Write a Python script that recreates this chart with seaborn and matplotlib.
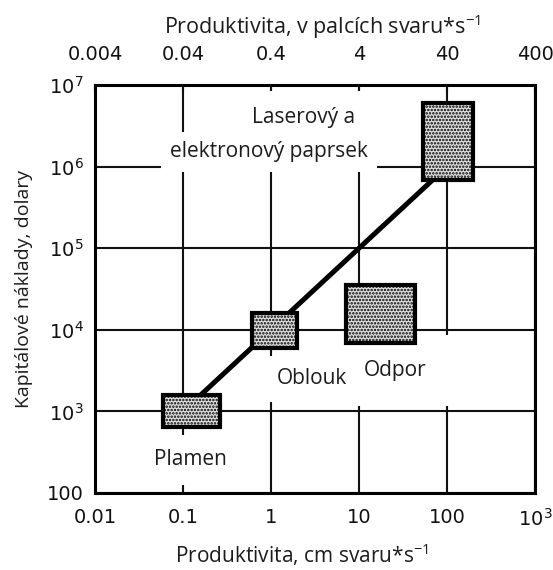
import matplotlib
matplotlib.use("Agg")
import matplotlib.pyplot as plt
from matplotlib.patches import Rectangle
import seaborn as sns
import pandas as pd

# Productivity (cm of weld per second) vs. capital cost (USD), log-log
x_ticks = [0.01, 0.1, 1, 10, 100, 1000]
x_labels = ["0.01", "0.1", "1", "10", "100", r"$\mathregular{10^3}$"]
top_labels = ["0.004", "0.04", "0.4", "4", "40", "400"]
y_ticks = [100, 1e3, 1e4, 1e5, 1e6, 1e7]
y_labels = ["100", r"$\mathregular{10^3}$", r"$\mathregular{10^4}$",
            r"$\mathregular{10^5}$", r"$\mathregular{10^6}$", r"$\mathregular{10^7}$"]

# trend line through the process regions
trend_x = [0.1, 1, 10, 100]
trend_y = [1e3, 1e4, 1e5, 1e6]

# process regions: productivity range and cost range
methods = ["Plamen", "Oblouk", "Odpor", "Laser"]
prod_lo = [0.059, 0.61, 7.1, 53]
prod_hi = [0.26, 1.97, 43, 197]
cost_lo = [644, 6.0e3, 6.9e3, 6.9e5]
cost_hi = [1590, 1.6e4, 3.5e4, 6.0e6]

sns.set_theme(style="white")
plt.rcParams["font.family"] = ["DejaVu Sans"]
plt.rcParams["hatch.color"] = "#4a4a4a"
plt.rcParams["hatch.linewidth"] = 1.2

fig = plt.figure(figsize=(5.53, 5.70), dpi=100)
ax = fig.add_axes([0.1718, 0.1351, 0.7957, 0.7158])
ax.set_xscale("log")
ax.set_yscale("log")
ax.set_xlim(0.01, 1000)
ax.set_ylim(100, 1e7)

ax.grid(True, which="major", color="#111111", linewidth=1.5)
ax.grid(False, which="minor")
ax.set_axisbelow(True)

trend = pd.DataFrame({"prod": trend_x, "cost": trend_y})
sns.lineplot(data=trend, x="prod", y="cost", ax=ax, color="black",
             linewidth=3.6, zorder=3, solid_capstyle="butt")

for lo_x, hi_x, lo_y, hi_y in zip(prod_lo, prod_hi, cost_lo, cost_hi):
    ax.add_patch(Rectangle((lo_x, lo_y), hi_x - lo_x, hi_y - lo_y,
                           facecolor="#e0e0e0", edgecolor="black",
                           hatch=".....", linewidth=3.0, zorder=4))

text_family = ["Open Sans", "DejaVu Sans"]
label_font = dict(family=text_family, fontsize=15, color="#1c1c1c")


def label(x, y, s, pad, z=2):
    ax.text(x, y, s, ha="center", va="center", zorder=z,
            bbox=dict(boxstyle=f"square,pad={pad}", facecolor="white",
                      edgecolor="none"), **label_font)


label(2.37, 3.94e6, "Laserový a", 0.8)
label(0.95, 1.51e6, "elektronový paprsek", 0.45)
label(25.6, 3.2e3, "Odpor", 1.2, z=2)
label(2.92, 2.5e3, "Oblouk", 0.6, z=2.2)
label(0.123, 254, "Plamen", 0.7)

ax.set_xticks(x_ticks)
ax.set_xticklabels(x_labels)
ax.set_yticks(y_ticks)
ax.set_yticklabels(y_labels)
ax.minorticks_off()
ax.tick_params(axis="x", length=0, pad=11, labelsize=14, labelcolor="#111111")
ax.tick_params(axis="y", length=0, pad=8, labelsize=14, labelcolor="#111111")

top = ax.secondary_xaxis("top")
top.set_xticks(x_ticks)
top.set_xticklabels(top_labels)
top.minorticks_off()
top.tick_params(axis="x", direction="in", length=6, width=1.5, pad=15,
                labelsize=14, labelcolor="#111111", color="#111111")
top.spines["top"].set_visible(False)

for sp in ax.spines.values():
    sp.set_visible(True)
    sp.set_color("black")
    sp.set_linewidth(2.2)

ax.set_xlabel("Produktivita, cm svaru*s$^{\\mathregular{-1}}$", labelpad=8,
              family=text_family, fontsize=15, color="#1c1c1c")
ax.xaxis.label.set_x(0.47)
ax.set_ylabel("Kapitálové náklady, dolary", labelpad=10,
              family=text_family, fontsize=14, color="#1c1c1c")
top.set_xlabel("Produktivita, v palcích svaru*s$^{\\mathregular{-1}}$", labelpad=8,
               family=text_family, fontsize=15.5, color="#1c1c1c")
top.xaxis.label.set_x(0.516)

fig.savefig("out.png", dpi=100)
